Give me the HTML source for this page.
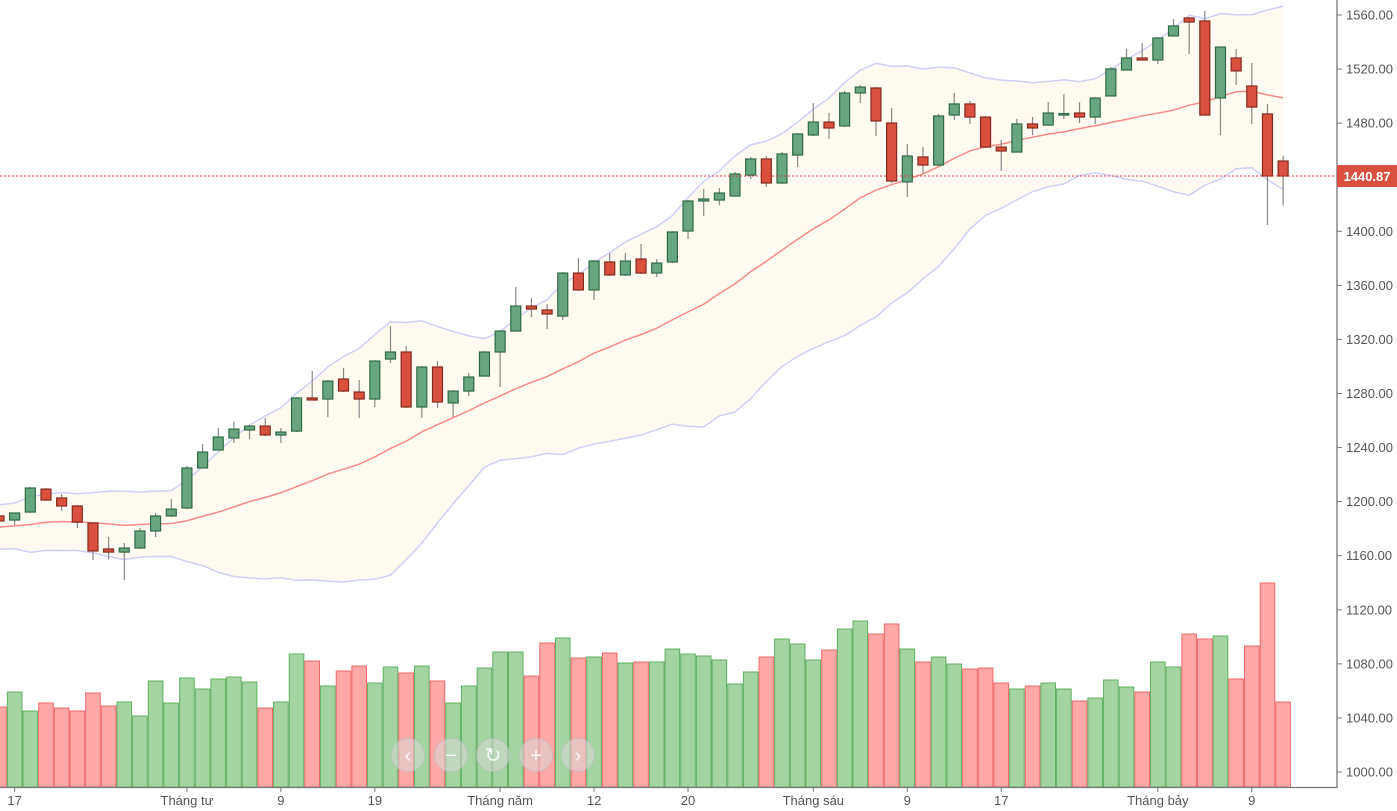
<!DOCTYPE html>
<html><head><meta charset="utf-8">
<style>
html,body{margin:0;padding:0;background:#fff;}
svg{display:block;font-family:"Liberation Sans",sans-serif;}
</style></head>
<body>
<svg id="chart" width="1397" height="811" viewBox="0 0 1397 811" xmlns="http://www.w3.org/2000/svg">
<g id="bands"></g>
<g id="vol"></g>
<g id="candles"></g>
<g id="axes"></g>
<g id="nav"></g>
</svg>
<script>
const opens=[1189.4,1186.4,1192.3,1209.3,1202.7,1196.8,1184.2,1165.0,1162.7,1165.7,1178.3,1189.4,1195.3,1224.9,1238.2,1247.1,1253.0,1255.9,1249.3,1252.2,1276.7,1275.9,1290.7,1281.1,1275.9,1305.5,1310.7,1270.0,1299.6,1273.0,1281.8,1292.9,1310.7,1326.2,1344.7,1341.8,1337.3,1369.1,1356.6,1377.3,1367.7,1379.5,1369.1,1377.3,1400.2,1422.4,1423.1,1426.1,1441.6,1453.5,1435.7,1456.4,1471.2,1480.8,1477.9,1502.3,1506.0,1480.1,1436.5,1455.0,1449.0,1486.0,1494.2,1484.5,1462.3,1458.6,1479.4,1478.6,1486.8,1487.5,1484.5,1500.1,1519.3,1528.2,1526.7,1544.5,1557.8,1555.6,1498.6,1528.2,1507.5,1486.8,1452.0];
const closes=[1185.7,1191.6,1210.1,1201.2,1196.8,1184.9,1163.5,1162.7,1165.7,1178.3,1189.4,1194.5,1224.9,1236.7,1247.8,1253.7,1255.9,1249.3,1251.5,1276.7,1275.2,1289.2,1281.8,1275.9,1304.0,1310.7,1270.0,1299.6,1273.7,1281.8,1292.2,1310.7,1326.2,1344.7,1342.5,1338.8,1369.1,1356.6,1378.0,1367.7,1378.0,1369.1,1376.5,1399.5,1422.4,1423.9,1428.3,1442.4,1453.5,1435.7,1457.2,1472.0,1480.8,1476.4,1502.3,1506.7,1481.6,1437.2,1455.7,1449.0,1485.3,1494.2,1484.5,1462.3,1459.4,1479.4,1476.4,1487.5,1487.1,1484.5,1498.6,1520.1,1528.2,1526.7,1543.0,1551.9,1554.8,1486.0,1536.3,1518.6,1491.9,1440.9,1440.87];
const highs=[1190.8,1191.6,1210.8,1210.1,1205.6,1197.5,1184.9,1173.8,1169.4,1180.5,1191.6,1201.9,1226.4,1242.6,1254.5,1258.9,1256.7,1261.9,1254.5,1277.4,1296.6,1290.0,1298.9,1290.0,1304.8,1329.9,1315.1,1300.3,1304.0,1282.6,1295.2,1311.4,1327.0,1358.8,1350.6,1346.2,1369.9,1380.2,1378.7,1383.9,1383.9,1390.6,1379.5,1400.2,1423.1,1431.3,1432.0,1443.8,1454.9,1455.7,1458.6,1472.7,1494.9,1487.5,1503.8,1508.2,1506.7,1491.2,1464.6,1462.4,1486.8,1502.3,1496.4,1485.3,1467.5,1483.1,1484.5,1495.6,1501.6,1495.6,1499.3,1521.5,1534.8,1539.3,1543.0,1557.0,1558.5,1563.0,1536.3,1534.8,1524.5,1494.2,1456.0];
const lows=[1184.2,1182.7,1191.6,1200.5,1193.1,1180.5,1156.8,1157.5,1142.0,1165.0,1173.8,1188.6,1194.5,1224.9,1238.2,1243.4,1246.3,1248.5,1243.4,1251.5,1275.2,1262.6,1281.1,1261.9,1270.0,1302.6,1269.3,1261.9,1269.3,1262.6,1278.1,1292.9,1284.8,1326.2,1336.6,1327.7,1334.4,1355.8,1349.2,1366.9,1366.9,1368.4,1366.2,1376.5,1394.3,1411.3,1419.4,1425.4,1438.7,1432.8,1435.0,1447.6,1470.5,1468.3,1477.1,1494.9,1470.5,1435.7,1425.4,1443.1,1448.3,1482.3,1479.4,1461.6,1444.6,1458.6,1471.2,1477.9,1483.1,1480.1,1479.4,1500.1,1519.3,1526.7,1523.8,1544.5,1531.2,1486.0,1471.2,1508.2,1479.4,1404.6,1419.0];
const volumes=[80,95,76,84,79,76,94,81,85,71,106,84,109,98,108,110,105,79,85,133,126,101,116,121,104,120,114,121,106,84,101,119,135,135,111,144,149,129,130,134,124,125,125,138,133,131,127,103,115,130,148,143,127,137,158,166,153,163,138,125,130,123,118,119,104,98,101,104,98,86,89,107,100,95,125,120,153,148,151,108,141,204,85];
const priorCloses=[1175,1190,1168,1185,1195,1172,1180,1188,1165,1178,1192,1183,1170,1186,1179,1174,1190,1182,1187];
const priceTicks=[1560,1520,1480,1440,1400,1360,1320,1280,1240,1200,1160,1120,1080,1040,1000];
const xTickIdx=[1,12,18,24,32,38,44,52,58,64,74,80];
const xTickLabels=["17","Tháng tư","9","19","Tháng năm","12","20","Tháng sáu","9","17","Tháng bảy","9"];
const lastPrice=1440.87;

const NS="http://www.w3.org/2000/svg";
function mk(tag,attrs,parent){const e=document.createElementNS(NS,tag);for(const k in attrs)e.setAttribute(k,attrs[k]);parent.appendChild(e);return e;}
const yP=v=>15+(1560-v)*757/560;
const xI=i=>-1+i*15.66;
const VOL_BASE=787, yV=v=>VOL_BASE-v*1.0;

// Bollinger
const all=priorCloses.concat(closes);const P=priorCloses.length;
const ma=[],up=[],lo=[];
for(let i=0;i<closes.length;i++){const w=all.slice(i+P-19,i+P+1);const m=w.reduce((a,b)=>a+b,0)/w.length;const sd=Math.sqrt(w.reduce((a,b)=>a+(b-m)*(b-m),0)/w.length);ma.push(m);up.push(m+2*sd);lo.push(m-2*sd);}
const gB=document.getElementById('bands');
let fillD='M'+closes.map((c,i)=>xI(i)+','+yP(up[i])).join('L')+'L'+closes.map((c,i)=>i).reverse().map(i=>xI(i)+','+yP(lo[i])).join('L')+'Z';
const bf=mk('path',{d:fillD,fill:'#fffbf1',stroke:'none'},gB);


const ul=mk('polyline',{points:closes.map((c,i)=>xI(i)+','+yP(up[i])).join(' '),fill:'none',stroke:'#cfcff8','stroke-width':1.5},gB);


const ll=mk('polyline',{points:closes.map((c,i)=>xI(i)+','+yP(lo[i])).join(' '),fill:'none',stroke:'#cfcff8','stroke-width':1.5},gB);


const ml=mk('polyline',{points:closes.map((c,i)=>xI(i)+','+yP(ma[i])).join(' '),fill:'none',stroke:'#f98a85','stroke-width':1.5},gB);



// volume
const gV=document.getElementById('vol');
volumes.forEach((v,i)=>{const g=closes[i]>=opens[i];
 const r=mk('rect',{x:xI(i)-7.3,y:yV(v),width:14.6,height:v,fill:g?'#a5d4a3':'#fea8a8',stroke:g?'#62b062':'#f26a6a','stroke-width':1},gV);
 
 
});

// price line
const gA=document.getElementById('axes');
const pl=mk('line',{x1:0,x2:1337,y1:yP(lastPrice),y2:yP(lastPrice),stroke:'#e0413a','stroke-width':1,'stroke-dasharray':'2,2'},gA);



// candles
const gC=document.getElementById('candles');
closes.forEach((c,i)=>{const o=opens[i],g=c>=o,x=xI(i);
 const w=mk('line',{x1:x,x2:x,y1:yP(highs[i]),y2:yP(lows[i]),stroke:'#888','stroke-width':1.2},gC);
 
 
 const t=yP(Math.max(o,c)),h=Math.max(1.5,Math.abs(yP(o)-yP(c)));
 const b=mk('rect',{x:x-5,y:t,width:10,height:h,fill:g?'#68a681':'#d9503f',stroke:g?'#2e6a45':'#862a1e','stroke-width':1.2},gC);
 
 
});

// axes
mk('line',{x1:1337,x2:1337,y1:0,y2:788,stroke:'#777','stroke-width':1.3},gA);
mk('line',{x1:0,x2:1337,y1:787.5,y2:787.5,stroke:'#777','stroke-width':1.3},gA);
priceTicks.forEach(v=>{const y=yP(v);
 mk('line',{x1:1337,x2:1342,y1:y,y2:y,stroke:'#777'},gA);
 const t=mk('text',{x:1346,y:y+4.5,'font-size':13,fill:'#555'},gA);t.textContent=v.toFixed(2);
 
 
});
xTickIdx.forEach((ix,k)=>{const x=xI(ix);
 mk('line',{x1:x,x2:x,y1:787,y2:792,stroke:'#777'},gA);
 const t=mk('text',{x:x,y:805,'font-size':13,fill:'#555','text-anchor':'middle'},gA);t.textContent=xTickLabels[k];
 
 
});
const lb=mk('rect',{x:1337,y:yP(lastPrice)-11,width:60,height:22,fill:'#d9503f'},gA);


const lt=mk('text',{x:1367,y:yP(lastPrice)+5,'font-size':13,'font-weight':'bold',fill:'#fff','text-anchor':'middle'},gA);lt.textContent=lastPrice.toFixed(2);



// nav buttons
const gN=document.getElementById('nav');
const navX=[408,451,493,536,578],navG=["‹","−","↻","+","›"],navN=["scroll-left-button","zoom-out-button","reset-button","zoom-in-button","scroll-right-button"];
navX.forEach((x,k)=>{const g=mk('g',{},gN);
 
 
 mk('circle',{cx:x,cy:755,r:16.5,fill:'rgba(215,215,215,0.55)',stroke:'rgba(190,190,190,0.6)'},g);
 const t=mk('text',{x:x,y:762,'font-size':20,fill:'rgba(255,255,255,0.9)','text-anchor':'middle'},g);t.textContent=navG[k];
});
</script>
</body></html>
